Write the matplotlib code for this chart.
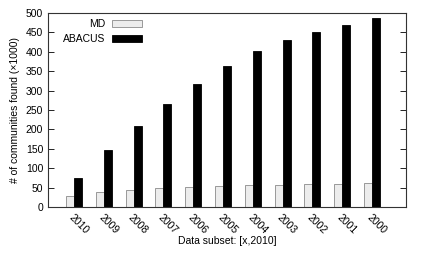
import matplotlib
matplotlib.use("Agg")
import matplotlib.pyplot as plt
import numpy as np

plt.rcParams['font.family'] = ['Liberation Sans', 'DejaVu Sans']

years = ["2010", "2009", "2008", "2007", "2006", "2005", "2004", "2003", "2002", "2001", "2000"]
md = [28, 39, 45, 48, 52, 54, 57, 57, 59, 59, 61]
abacus = [75, 147, 208, 265, 317, 363, 402, 430, 452, 470, 486]

fs = 7.5
fig = plt.figure(figsize=(4.24, 2.54), dpi=100)
ax = fig.add_axes([48/424, 1-207/254, (406-48)/424, (207-13)/254])

x = np.arange(len(years))
w = 0.27
ax.bar(x - w/2, md, w, color='#ececec', edgecolor='#8a8a8a', linewidth=0.6, label='MD')
ax.bar(x + w/2, abacus, w, color='black', edgecolor='black', linewidth=0.6, label='ABACUS')

ax.set_xlim(-0.87, 11.14)
ax.set_ylim(0, 500)
ax.set_yticks(range(0, 501, 50))
ax.set_xticks(x)
ax.set_xticklabels(years, rotation=-45, ha='left', va='top', rotation_mode='anchor', fontsize=fs)
ax.tick_params(axis='x', length=0, pad=4)
ax.tick_params(axis='y', direction='in', length=4, right=True, labelsize=fs, width=0.6)
for s in ax.spines.values():
    s.set_linewidth(0.8)
    s.set_color('#333333')

ax.set_ylabel('# of communities found (\u00d71000)', fontsize=fs)
ax.set_xlabel('Data subset: [x,2010]', fontsize=fs)
ax.xaxis.set_label_coords(0.5, -0.148)

leg = ax.legend(loc='upper right', bbox_to_anchor=(0.28, 1.0), frameon=False, markerfirst=False,
                fontsize=fs, handlelength=2.9, handleheight=0.6, labelspacing=0.45,
                borderaxespad=0.2, handletextpad=0.6)
for t in leg.get_texts():
    t.set_ha('right')

fig.savefig('out.png', dpi=100)
